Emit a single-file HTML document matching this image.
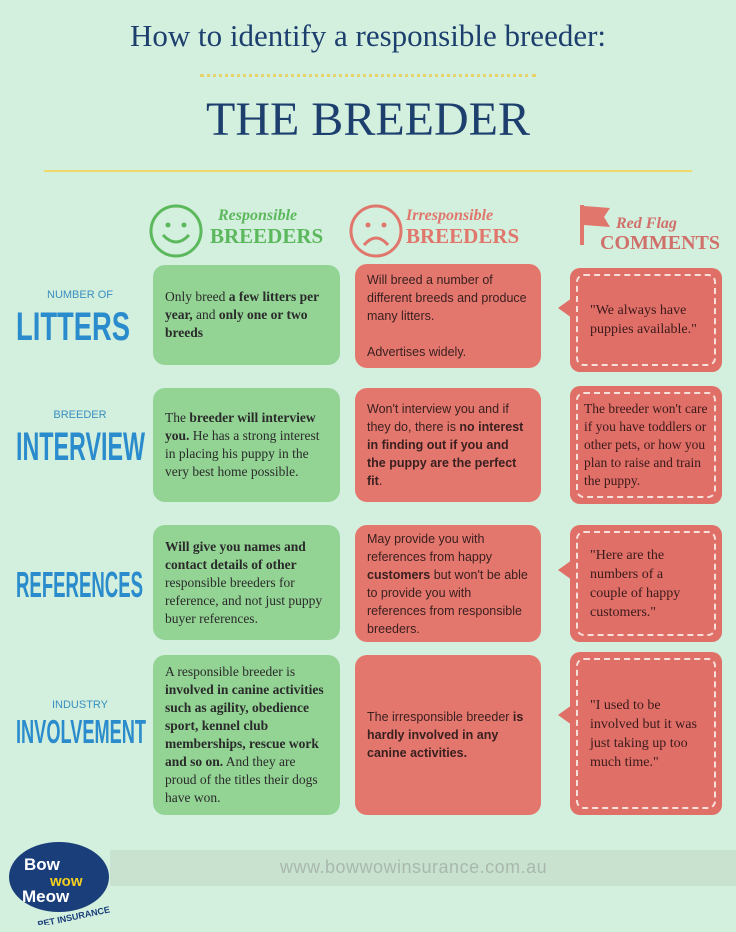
<!DOCTYPE html>
<html><head><meta charset="utf-8"><style>
body{margin:0;width:736px;height:932px;background:#d3efdd;position:relative;overflow:hidden;font-family:"Liberation Sans",sans-serif}
.a{position:absolute}
.t1{left:0;width:736px;text-align:center;top:18px;font-family:"Liberation Serif",serif;font-size:31px;color:#1d3f6e}
.t2{left:0;width:736px;text-align:center;top:92px;font-family:"Liberation Serif",serif;font-size:48px;color:#1d3f6e}
.dots{left:200px;width:336px;top:74px;border-top:3px dotted #e8d26a}
.line{left:44px;width:648px;top:170px;border-top:2px solid #f0d86a}
.g{background:#93d495;border-radius:12px;font-family:"Liberation Serif",serif;font-size:13.5px;line-height:18px;color:#2a2a2a;padding:0 12px;box-sizing:border-box;display:flex;align-items:center}
.r{background:#e4776d;border-radius:12px;font-size:12.5px;line-height:18px;color:#3a2020;padding:0 12px;box-sizing:border-box;display:flex;align-items:center}
.c{background:#e06f68;border-radius:10px;box-sizing:border-box;padding:6px}
.c div{border:2px dashed #f8e0da;border-radius:8px;height:100%;box-sizing:border-box;display:flex;align-items:center;padding:0 12px;font-family:"Liberation Serif",serif;font-size:14px;line-height:19px;color:#3a1a1a}
.tail{width:0;height:0;border-top:10px solid transparent;border-bottom:10px solid transparent;border-right:14px solid #e06f68}
.sm{left:0;width:160px;text-align:center;font-size:11px;color:#3a8fc0}
.h{font-family:"Liberation Serif",serif;font-weight:bold;line-height:20px}
</style></head><body>
<div class="a t1">How to identify a responsible breeder:</div>
<div class="a dots"></div>
<div class="a t2">THE BREEDER</div>
<div class="a line"></div>

<svg class="a" style="left:148px;top:203px" width="56" height="56"><circle cx="28" cy="28" r="25" fill="none" stroke="#5cb85c" stroke-width="3"/><circle cx="20" cy="22" r="2.5" fill="#5cb85c"/><circle cx="36" cy="22" r="2.5" fill="#5cb85c"/><path d="M15 32 Q28 46 41 32" fill="none" stroke="#5cb85c" stroke-width="3"/></svg>
<div class="a h" style="left:218px;top:206px;color:#5cb85c;font-size:16px;font-style:italic">Responsible</div>
<div class="a h" style="left:210px;top:226px;color:#5cb85c;font-size:21px">BREEDERS</div>
<svg class="a" style="left:348px;top:203px" width="56" height="56"><circle cx="28" cy="28" r="25" fill="none" stroke="#e0766c" stroke-width="3"/><circle cx="20" cy="22" r="2.5" fill="#e0766c"/><circle cx="36" cy="22" r="2.5" fill="#e0766c"/><path d="M16 42 Q28 28 40 42" fill="none" stroke="#e0766c" stroke-width="3"/></svg>
<div class="a h" style="left:406px;top:206px;color:#e0766c;font-size:16px;font-style:italic">Irresponsible</div>
<div class="a h" style="left:406px;top:226px;color:#e0766c;font-size:21px">BREEDERS</div>
<svg class="a" style="left:578px;top:203px" width="40" height="44"><rect x="2" y="2" width="4" height="40" fill="#e0766c"/><path d="M6 3 L32 5 L26 14 L32 24 L6 22Z" fill="#e0766c"/></svg>
<div class="a h" style="left:616px;top:214px;color:#d0706a;font-size:16px;font-style:italic">Red Flag</div>
<div class="a h" style="left:600px;top:233px;color:#d0706a;font-size:20px">COMMENTS</div>

<div class="a sm" style="top:289px">NUMBER OF</div>
<div class="a sm" style="top:409px">BREEDER</div>
<div class="a sm" style="top:699px">INDUSTRY</div>
<svg class="a" style="left:0;top:0" width="160" height="932" font-family="Liberation Sans" font-weight="bold" fill="#2a8ccc">
<text x="16" y="340" font-size="40" textLength="114" lengthAdjust="spacingAndGlyphs">LITTERS</text>
<text x="16" y="460" font-size="40" textLength="129" lengthAdjust="spacingAndGlyphs">INTERVIEW</text>
<text x="16" y="597" font-size="36" textLength="127" lengthAdjust="spacingAndGlyphs">REFERENCES</text>
<text x="16" y="743" font-size="33" textLength="130" lengthAdjust="spacingAndGlyphs">INVOLVEMENT</text>
</svg>

<div class="a g" style="left:153px;top:265px;width:187px;height:100px"><div>Only breed <b>a few litters per year,</b> and <b>only one or two breeds</b></div></div>
<div class="a r" style="left:355px;top:264px;width:186px;height:104px"><div>Will breed a number of different breeds and produce many litters.<br><br>Advertises widely.</div></div>
<div class="a tail" style="left:558px;top:298px"></div>
<div class="a c" style="left:570px;top:268px;width:152px;height:104px"><div>"We always have puppies available."</div></div>

<div class="a g" style="left:153px;top:388px;width:187px;height:114px"><div>The <b>breeder will interview you.</b> He has a strong interest in placing his puppy in the very best home possible.</div></div>
<div class="a r" style="left:355px;top:388px;width:186px;height:114px"><div>Won't interview you and if they do, there is <b>no interest in finding out if you and the puppy are the perfect fit</b>.</div></div>
<div class="a c" style="left:570px;top:386px;width:152px;height:118px"><div style="padding:0 6px;font-size:13.5px;line-height:18px">The breeder won't care if you have toddlers or other pets, or how you plan to raise and train the puppy.</div></div>

<div class="a g" style="left:153px;top:525px;width:187px;height:115px"><div><b>Will give you names and contact details of other</b> responsible breeders for reference, and not just puppy buyer references.</div></div>
<div class="a r" style="left:355px;top:525px;width:186px;height:117px"><div>May provide you with references from happy <b>customers</b> but won't be able to provide you with references from responsible breeders.</div></div>
<div class="a tail" style="left:558px;top:560px"></div>
<div class="a c" style="left:570px;top:525px;width:152px;height:117px"><div>"Here are the numbers of a couple of happy customers."</div></div>

<div class="a g" style="left:153px;top:655px;width:187px;height:160px"><div>A responsible breeder is <b>involved in canine activities such as agility, obedience sport, kennel club memberships, rescue work and so on.</b> And they are proud of the titles their dogs have won.</div></div>
<div class="a r" style="left:355px;top:655px;width:186px;height:160px"><div>The irresponsible breeder <b>is hardly involved in any canine activities.</b></div></div>
<div class="a tail" style="left:558px;top:705px"></div>
<div class="a c" style="left:570px;top:652px;width:152px;height:163px"><div>"I used to be involved but it was just taking up too much time."</div></div>

<div class="a" style="left:110px;top:850px;width:626px;height:36px;background:#c8e2cf"></div>
<div class="a" style="left:280px;top:857px;font-size:18px;color:#a9b8ad;letter-spacing:.5px">www.bowwowinsurance.com.au</div>
<svg class="a" style="left:4px;top:840px" width="120" height="85"><ellipse cx="55" cy="37" rx="50" ry="35" fill="#1a3e7a"/><text x="20" y="30" font-family="Liberation Sans" font-weight="bold" font-size="17" fill="#fff">Bow</text><text x="46" y="46" font-family="Liberation Sans" font-weight="bold" font-size="15" fill="#f5d020">wow</text><text x="18" y="62" font-family="Liberation Sans" font-weight="bold" font-size="17" fill="#fff">Meow</text><text x="33" y="82" font-family="Liberation Sans" font-weight="bold" font-size="9" fill="#1a3e7a" transform="rotate(-12 60 78)">PET INSURANCE</text></svg>
</body></html>
